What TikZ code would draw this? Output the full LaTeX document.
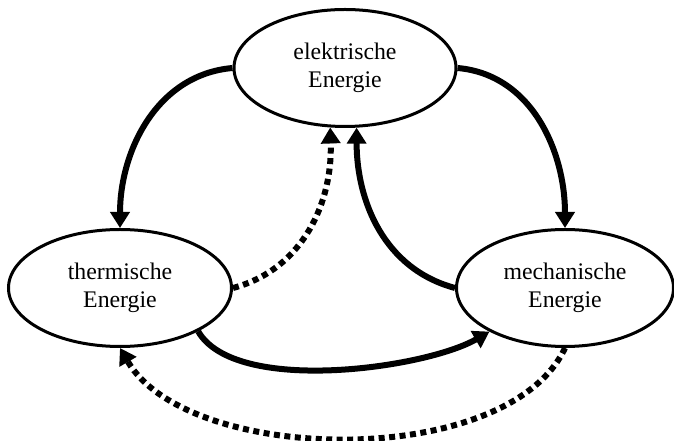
\documentclass[tikz,border=0pt]{standalone}
\usepackage{fontspec}
\setmainfont{Liberation Serif}
\usetikzlibrary{arrows.meta,shapes.geometric}

\begin{document}
\begin{tikzpicture}[x=1pt, y=1pt,
    energie/.style = {ellipse, draw, line width=3pt, minimum width=222pt,
        minimum height=117pt, inner sep=0pt, align=center,
        font=\fontsize{23.8}{28.5}\selectfont},
    fluss/.style = {line width=6pt, -{Triangle[length=16pt, width=19pt]}},
    verlust/.style = {fluss, dash pattern=on 6pt off 4.5pt}]
\useasboundingbox (0,0) rectangle (674,441);
\node[energie] (el) at (345,373) {elektrische\\Energie};
\node[energie, minimum width=223pt] (th) at (120,153) {thermische\\Energie};
\node[energie, minimum width=217pt] (me) at (565,153) {mechanische\\Energie};
\draw[fluss] (el.west) to[out=185, in=90] (th.north);
\draw[fluss] (el.east) to[out=-5, in=90] (me.north);
\draw[fluss] (me.west) to[out=165, in=-90] (el.-79);
\draw[verlust] (th.east) to[out=15, in=-88] (el.-104);
\draw[fluss] (th.-29) to[out=-60, in=210, looseness=0.65] (me.-150);
\draw[verlust] (me.south) to[out=-115, in=-60, looseness=0.78] (th.south);
\end{tikzpicture}
\end{document}
